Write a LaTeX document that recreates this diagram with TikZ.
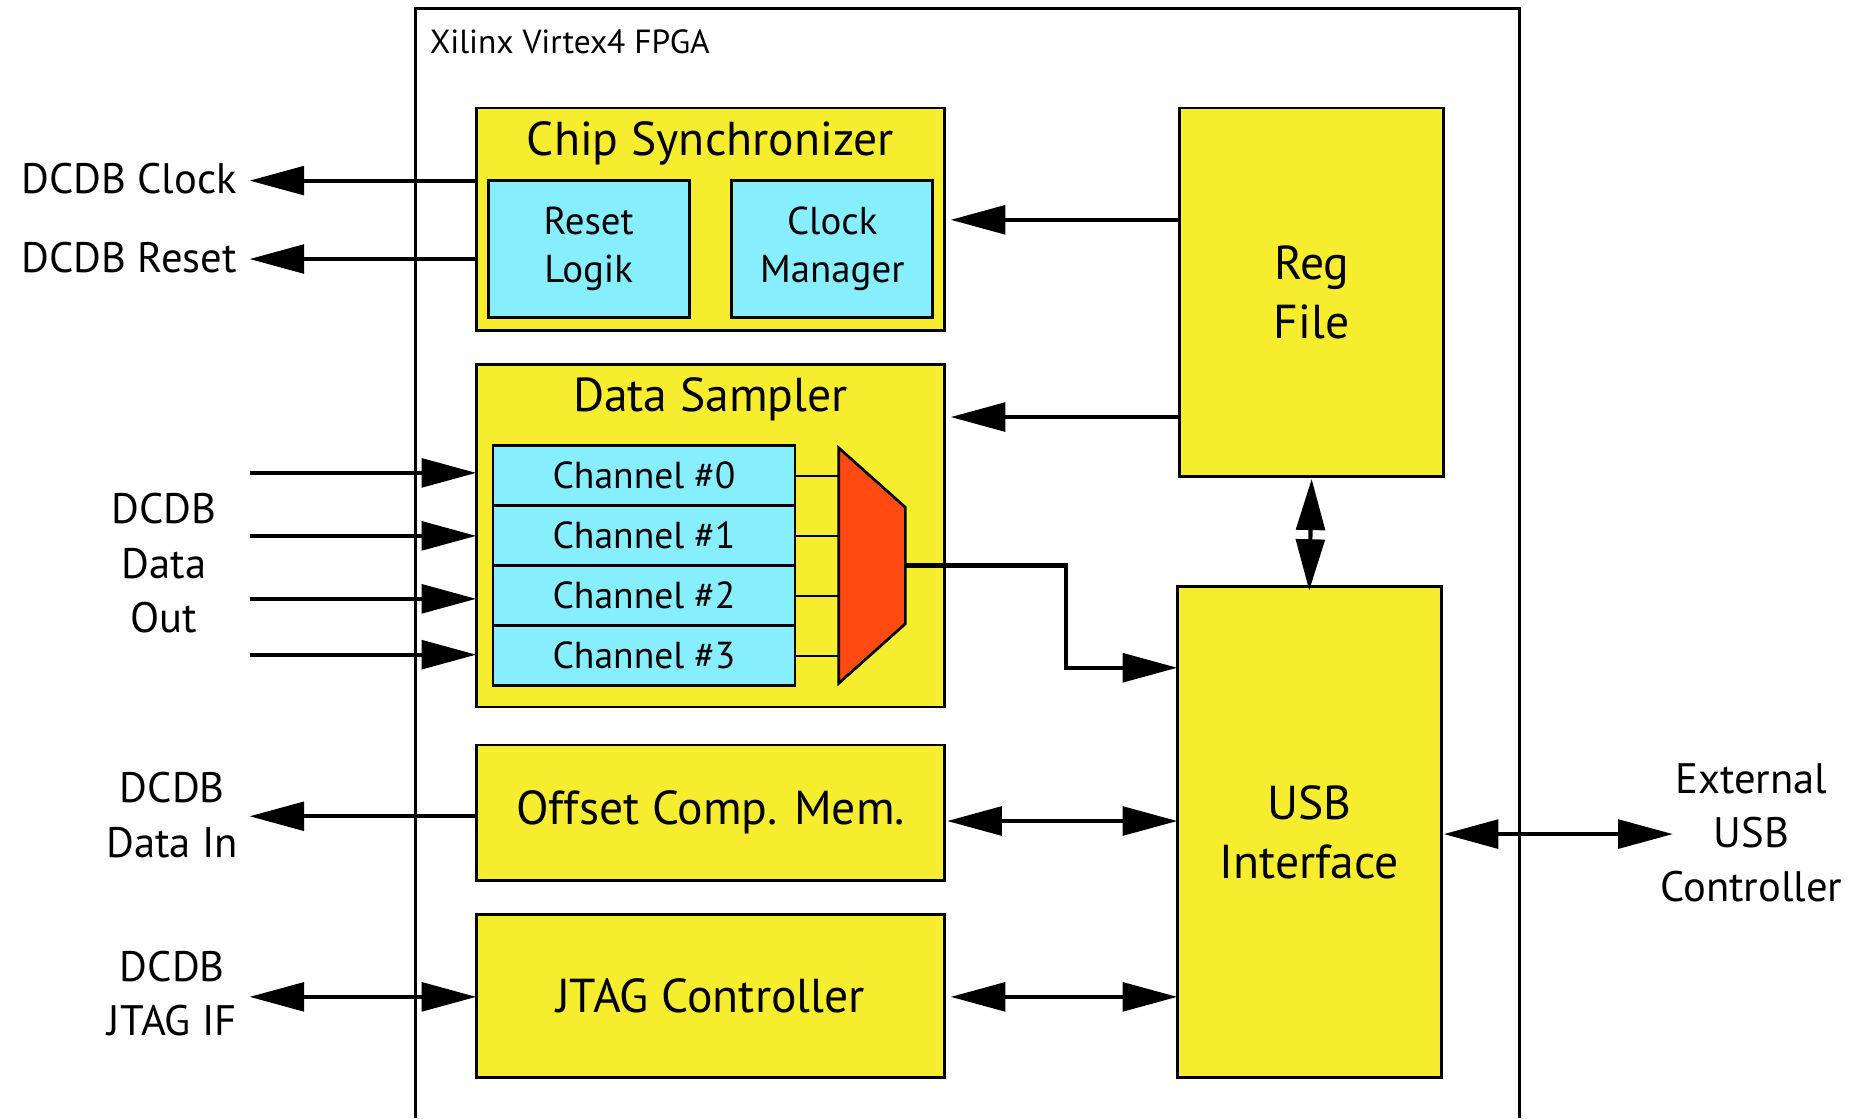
\documentclass[tikz,border=0pt]{standalone}
\usepackage{fontspec}
\setmainfont{PT Sans}
\usetikzlibrary{arrows.meta,positioning}

\definecolor{blockyellow}{RGB}{247,237,47}
\definecolor{subcyan}{RGB}{134,238,252}
\definecolor{muxred}{RGB}{255,74,18}

\begin{document}
\begin{tikzpicture} [
    x=0.01cm, y=-0.01cm,
    block/.style      = { rectangle, draw, line width=0.65pt, fill=blockyellow,
                          inner sep=0pt, outer sep=0pt, align=center,
                          font=\fontsize{11.4}{14.2}\selectfont },
    subblock/.style   = { block, fill=subcyan, font=\fontsize{9.3}{11.6}\selectfont },
    channel/.style    = { subblock, minimum width=2.54cm, minimum height=0.505cm,
                          font=\fontsize{9}{11}\selectfont },
    blocktitle/.style = { inner sep=0pt, font=\fontsize{11.4}{14}\selectfont },
    portlabel/.style  = { inner sep=0pt, align=center, font=\fontsize{10.2}{13}\selectfont },
    line/.style       = { draw, line width=1pt, -{Triangle[length=0.46cm, width=0.24cm]} },
    dline/.style      = { line, {Triangle[length=0.46cm, width=0.24cm]}-{Triangle[length=0.46cm, width=0.24cm]} },
  ]
  \useasboundingbox (0,0) rectangle (1568,941);

  % FPGA outline
  \draw[line width=0.65pt] (350,941) -- (350,7) -- (1279,7) -- (1279,941);
  \node[anchor=west, inner sep=0pt, font=\fontsize{8}{10}\selectfont] (fpga) at (361,35) {Xilinx Virtex4 FPGA};

  % blocks
  \node[block, minimum width=3.94cm, minimum height=1.87cm] (sync) at (598,184.5) {};
  \node[blocktitle] (synctitle) at (598,121) {Chip Synchronizer};
  \node[subblock, minimum width=1.69cm, minimum height=1.15cm] (reset) at (495.5,209.5) {Reset\\Logik};
  \node[subblock, minimum width=1.69cm, minimum height=1.15cm] (clkmgr) at (700.5,209.5) {Clock\\Manager};

  \node[block, minimum width=3.94cm, minimum height=2.88cm] (sampler) at (598,451) {};
  \node[blocktitle] (samplertitle) at (598,336) {Data Sampler};
  \foreach \i in {0,...,3}
    \node[channel] (ch\i) at (542,{400.25+50.5*\i}) {Channel \#\i};

  \draw[fill=muxred, line width=0.65pt] (706,377) -- (762,427) -- (762,525) -- (706,575) -- cycle;
  \coordinate (muxin) at (706,476);
  \coordinate (muxout) at (762,476);
  \coordinate (muxbend) at (897,476);

  \node[block, minimum width=3.94cm, minimum height=1.14cm] (offset) at (598,684) {Offset Comp. Mem.};
  \node[block, minimum width=3.94cm, minimum height=1.37cm] (jtag) at (598,838.5) {JTAG Controller};
  \node[block, minimum width=2.22cm, minimum height=3.10cm] (regfile) at (1104,246) {Reg\\File};
  \node[block, minimum width=2.22cm, minimum height=4.13cm] (usb) at (1102,700.5) {USB\\Interface};

  % outside signals
  \node[portlabel, anchor=east] (dclk) at (200,150) {DCDB Clock};
  \node[portlabel, anchor=east] (drst) at (200,217) {DCDB Reset};
  \node[portlabel] (dout) at (138,474) {DCDB\\Data\\Out};
  \node[portlabel] (din) at (145,686) {DCDB\\Data In};
  \node[portlabel] (djtag) at (145,836) {DCDB\\JTAG IF};
  \node[portlabel] (extusb) at (1474,701) {External\\USB\\Controller};
  \coordinate (leftend) at (210,0);
  \coordinate (rightend) at (1408,0);

  % connect the nodes
  \foreach \i in {0,...,3}
    \draw[line width=0.45pt] (ch\i.east) -- (ch\i.east -| muxin);
  \foreach \y [count=\i] in {398,451,504,551} {
    \coordinate (dout\i) at (210,\y);
    \path [line] (dout\i) -- (dout\i -| sampler.west);
  }
  \path [line] (sync.west |- 0,152) -- (leftend |- 0,152);
  \path [line] (sync.west |- 0,218) -- (leftend |- 0,218);
  \path [line] (offset.west |- 0,687) -- (leftend |- 0,687);
  \path [dline] (leftend |- 0,839) -- (jtag.west |- 0,839);
  \path [line, shorten >=0.05cm] (regfile.west |- 0,185) -- (sync.east |- 0,185);
  \path [line, shorten >=0.05cm] (regfile.west |- 0,351) -- (sampler.east |- 0,351);
  \path [draw, line width=1pt, {Triangle[length=0.43cm, width=0.24cm]}-{Triangle[length=0.43cm, width=0.24cm]},
         shorten <=0.02cm, shorten >=-0.03cm] (regfile.south) -- (usb.north);
  \path [line] (muxout) -- (muxbend) |- (usb.west |- 0,562);
  \path [dline, shorten <=0.02cm] (offset.east |- 0,691) -- (usb.west |- 0,691);
  \path [dline, shorten <=0.05cm] (jtag.east |- 0,839) -- (usb.west |- 0,839);
  \path [dline, shorten <=0.02cm] (usb.east |- 0,702) -- (rightend |- 0,702);
\end{tikzpicture}
\end{document}
